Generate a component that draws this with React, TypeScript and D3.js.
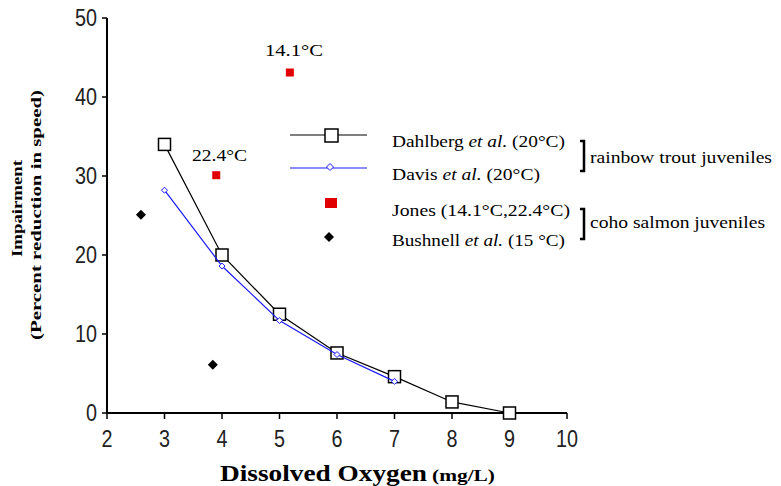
import React from 'react'
import * as d3 from 'd3'

const dahlbergX = [3, 4, 5, 6, 7, 8, 9]
const dahlbergY = [34, 20, 12.5, 7.6, 4.6, 1.4, 0]
const davisX = [3, 4, 5, 6, 7]
const davisY = [28.2, 18.6, 11.7, 7.4, 4.0]
const jonesX = [3.9, 5.18]
const jonesY = [30.1, 43.1]
const jonesLabels = ['22.4°C', '14.1°C']
const bushnellX = [2.59, 3.84]
const bushnellY = [25.1, 6.1]
const xTicks = [2, 3, 4, 5, 6, 7, 8, 9, 10]
const yTicks = [0, 10, 20, 30, 40, 50]

const serif = '"Liberation Serif", "DejaVu Serif", serif'
const sans = '"Liberation Sans", Arial, sans-serif'

export default function App() {
  const width = 781
  const height = 486
  const x = d3.scaleLinear().domain([2, 10]).range([107, 567])
  const y = d3.scaleLinear().domain([0, 50]).range([413, 18])

  const dahl = dahlbergX.map((d, i) => [d, dahlbergY[i]] as [number, number])
  const dav = davisX.map((d, i) => [d, davisY[i]] as [number, number])
  const line = d3.line<[number, number]>().x(d => x(d[0])).y(d => y(d[1]))

  const diamond = (cx: number, cy: number, r: number) =>
    `M${cx},${cy - r}L${cx + r},${cy}L${cx},${cy + r}L${cx - r},${cy}Z`

  // tick label: narrow sans digits
  const tickLen = (t: number) => String(t).length * 11

  return (
    <svg width={width} height={height} style={{ position: 'absolute', left: 0, top: 0, background: '#fff' }}>
      {/* axes */}
      <line x1={x(2)} x2={x(2)} y1={y(50)} y2={y(0)} stroke="#000" strokeWidth={2} />
      <line x1={x(2)} x2={x(10)} y1={y(0)} y2={y(0)} stroke="#000" strokeWidth={2} />
      {yTicks.map(t => (
        <g key={`yt${t}`}>
          <line x1={x(2) - 5} x2={x(2)} y1={y(t)} y2={y(t)} stroke="#000" strokeWidth={1.5} />
          <text x={x(2) - 10} y={y(t) + 8} textAnchor="end" fontFamily={sans} fontSize={23}
            textLength={tickLen(t)} lengthAdjust="spacingAndGlyphs" fill="#222">{t}</text>
        </g>
      ))}
      {xTicks.map(t => (
        <g key={`xt${t}`}>
          <line x1={x(t)} x2={x(t)} y1={y(0)} y2={y(0) + 6} stroke="#000" strokeWidth={1.5} />
          <text x={x(t)} y={y(0) + 34} textAnchor="middle" fontFamily={sans} fontSize={23}
            textLength={tickLen(t)} lengthAdjust="spacingAndGlyphs" fill="#222">{t}</text>
        </g>
      ))}

      {/* axis titles */}
      <text x={220} y={481} fontFamily={serif} fontWeight="bold" fontSize={23} fill="#000"
        textLength={207} lengthAdjust="spacingAndGlyphs">Dissolved Oxygen</text>
      <text x={432} y={481} fontFamily={serif} fontWeight="bold" fontSize={16} fill="#000"
        textLength={63} lengthAdjust="spacingAndGlyphs">(mg/L)</text>
      <g transform="rotate(-90)" fontFamily={serif} fontWeight="bold" fontSize={15} fill="#000">
        <text x={-257} y={22} textLength={97} lengthAdjust="spacingAndGlyphs">Impairment</text>
        <text x={-340} y={41} textLength={250} lengthAdjust="spacingAndGlyphs">(Percent reduction in speed)</text>
      </g>

      {/* series */}
      <path d={line(dahl) || ''} fill="none" stroke="#000" strokeWidth={1.2} />
      {dahl.map((d, i) => (
        <rect key={`ds${i}`} x={x(d[0]) - 6} y={y(d[1]) - 6} width={12} height={12} fill="#fff" stroke="#000" strokeWidth={1.5} />
      ))}
      <path d={line(dav) || ''} fill="none" stroke="#1a1aff" strokeWidth={1.2} />
      {dav.map((d, i) => (
        <path key={`dv${i}`} d={diamond(x(d[0]), y(d[1]), 3)} fill="#fff" stroke="#1a1aff" strokeWidth={1} />
      ))}
      {jonesX.map((d, i) => (
        <rect key={`j${i}`} x={x(d) - 4} y={y(jonesY[i]) - 4} width={8} height={8} fill="#e00000" />
      ))}
      <text x={192} y={161} fontFamily={serif} fontSize={16} fill="#000"
        textLength={55} lengthAdjust="spacingAndGlyphs">{jonesLabels[0]}</text>
      <text x={265} y={56} fontFamily={serif} fontSize={16} fill="#000"
        textLength={58} lengthAdjust="spacingAndGlyphs">{jonesLabels[1]}</text>
      {bushnellX.map((d, i) => (
        <path key={`b${i}`} d={diamond(x(d), y(bushnellY[i]), 5)} fill="#000" />
      ))}

      {/* legend */}
      <g fontFamily={serif} fontSize={16} fill="#000">
        <line x1={290} x2={367} y1={135} y2={135} stroke="#000" strokeWidth={1.2} />
        <rect x={325} y={129} width={13} height={13} fill="#fff" stroke="#000" strokeWidth={1.5} />
        <text x={392} y={147} textLength={173} lengthAdjust="spacingAndGlyphs">Dahlberg <tspan fontStyle="italic">et al.</tspan> (20°C)</text>

        <line x1={290} x2={367} y1={168} y2={168} stroke="#1a1aff" strokeWidth={1.2} />
        <path d={diamond(330, 167, 3.5)} fill="#fff" stroke="#1a1aff" strokeWidth={1} />
        <text x={392} y={180} textLength={148} lengthAdjust="spacingAndGlyphs">Davis <tspan fontStyle="italic">et al.</tspan> (20°C)</text>

        <rect x={325} y={198} width={12} height={10} fill="#e00000" />
        <text x={392} y={216} textLength={178} lengthAdjust="spacingAndGlyphs">Jones (14.1°C,22.4°C)</text>

        <path d={diamond(329, 237, 5)} fill="#000" />
        <text x={392} y={246} textLength={173} lengthAdjust="spacingAndGlyphs">Bushnell <tspan fontStyle="italic">et al.</tspan> (15 °C)</text>

        <path d="M580,141H584V171H580" fill="none" stroke="#000" strokeWidth={2.5} />
        <text x={590} y={163} textLength={182} lengthAdjust="spacingAndGlyphs">rainbow trout juveniles</text>
        <path d="M580,209H584V239H580" fill="none" stroke="#000" strokeWidth={2.5} />
        <text x={590} y={228} textLength={175} lengthAdjust="spacingAndGlyphs">coho salmon juveniles</text>
      </g>
    </svg>
  )
}
